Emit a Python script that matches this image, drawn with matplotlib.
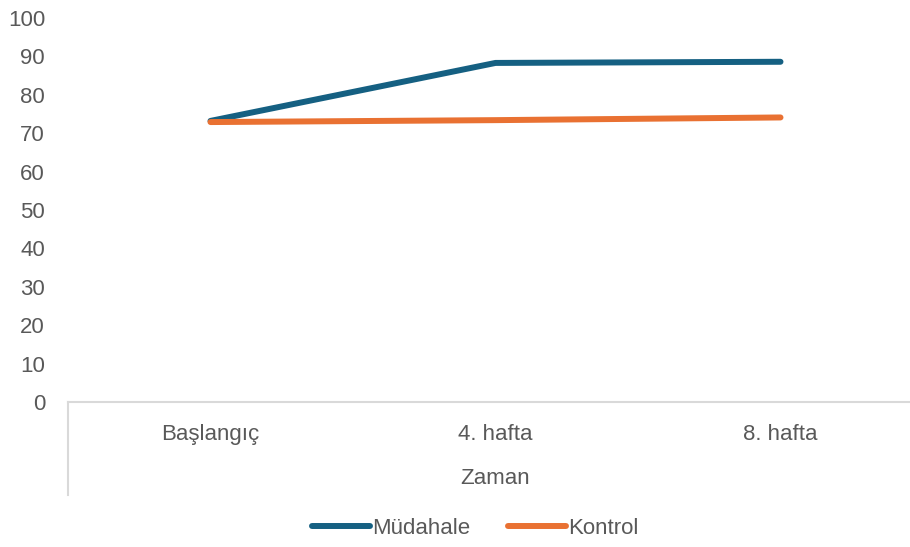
import matplotlib.pyplot as plt
from matplotlib.lines import Line2D

categories = ["Başlangıç", "4. hafta", "8. hafta"]
mudahale = [73.2, 88.3, 88.6]
kontrol = [72.9, 73.4, 74.1]
yticks = list(range(0, 101, 10))

BLUE = "#156082"
ORANGE = "#E97132"
TEXT = "#595959"
AXIS = "#D9D9D9"
FS = 16

plt.rcParams["font.family"] = ["Liberation Sans", "DejaVu Sans"]

W, H = 910, 547
fig = plt.figure(figsize=(W / 100, H / 100), dpi=100)
ax = fig.add_axes([68 / W, (H - 402) / H, (W - 68) / W, (402 - 18) / H])

x = range(len(categories))
ax.plot(x, mudahale, color=BLUE, lw=4.3, solid_capstyle="round",
        solid_joinstyle="round", label="Müdahale")
ax.plot(x, kontrol, color=ORANGE, lw=4.3, solid_capstyle="round",
        solid_joinstyle="round", label="Kontrol")

ax.set_xlim(-0.5, -0.5 + (W - 68) / 285)
ax.set_ylim(0, 100)
ax.set_yticks(yticks)
ax.set_xticks(list(x))
ax.set_xticklabels(categories)
ax.tick_params(axis="both", length=0, labelsize=FS, labelcolor=TEXT)
ax.tick_params(axis="y", pad=16.5)
ax.tick_params(axis="x", pad=15.5)

for side in ("top", "right", "left"):
    ax.spines[side].set_visible(False)
ax.spines["bottom"].set_color(AXIS)
ax.spines["bottom"].set_linewidth(1.5)

# category group divider on the left
ax.add_line(Line2D([0, 0], [0, -(495 - 402) / (402 - 18)], transform=ax.transAxes,
                   color=AXIS, lw=1.5, clip_on=False))

fig.text(495 / W, 1 - 478 / H, "Zaman", ha="center", va="center",
         fontsize=FS, color=TEXT)

fig.legend(loc="center", bbox_to_anchor=(475 / W, 1 - 528 / H), ncol=2,
           frameon=False, fontsize=FS, labelcolor=TEXT, handlelength=2.6,
           handletextpad=0.1, columnspacing=1.7)

fig.savefig("out.png", dpi=100)
